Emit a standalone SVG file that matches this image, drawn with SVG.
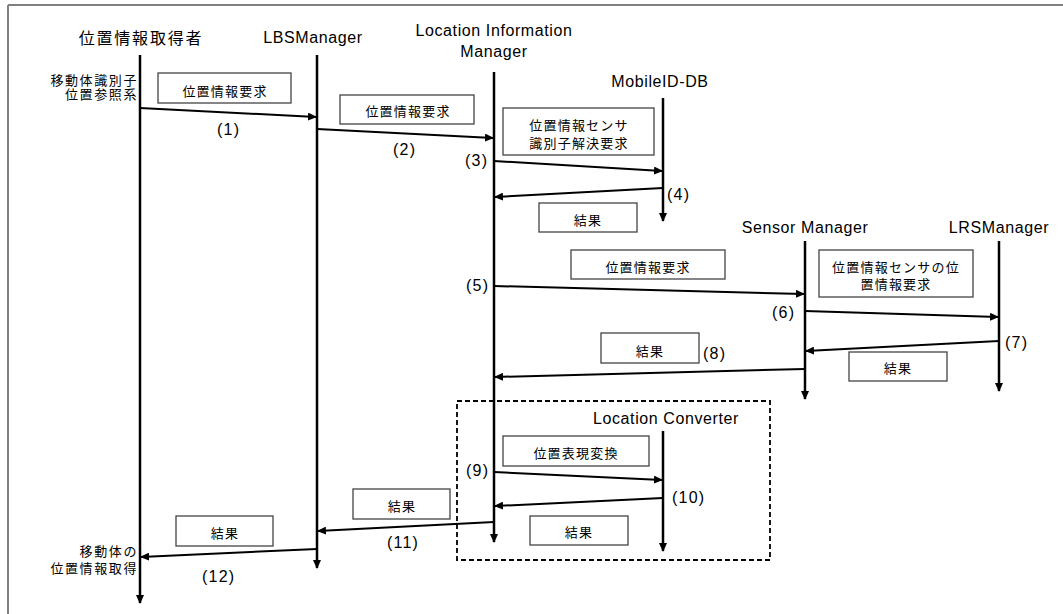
<svg xmlns="http://www.w3.org/2000/svg" width="1063" height="614" viewBox="0 0 1063 614">
<style>
text{font-family:"Liberation Sans","Noto Sans CJK JP",sans-serif;fill:#000}
.hd{font-size:16px;text-anchor:middle;letter-spacing:0.6px}
.hj{font-size:16px;text-anchor:middle;letter-spacing:1.8px}
.bx{fill:#fff;stroke:#444;stroke-width:1.3}
.bt{font-size:13px;text-anchor:middle;letter-spacing:1.2px}
.side{font-size:13px;text-anchor:end;letter-spacing:1.6px}
.num{font-size:16px;letter-spacing:1.2px}
.life{stroke:#000;stroke-width:2.5;fill:none}
.msg{stroke:#000;stroke-width:2;fill:none}
</style>
<defs>
<marker id="ah" viewBox="0 0 9 8" refX="8" refY="4" markerWidth="9" markerHeight="8" markerUnits="userSpaceOnUse" orient="auto">
<path d="M0,0 L9,4 L0,8 z" fill="#000"/>
</marker>
</defs>
<rect width="1063" height="614" fill="#fff"/>
<g id="frame" stroke="#808080" stroke-width="2" fill="none">
<line x1="8" y1="5" x2="1063" y2="5"/>
<line x1="8" y1="5" x2="8" y2="614"/>
</g>
<g id="converter-frame">
<rect x="457" y="401" width="313" height="159" fill="none" stroke="#000" stroke-width="1.8" stroke-dasharray="5,3"/>
</g>
<g id="lifeline-acquirer">
<text class="hj" x="141" y="44">位置情報取得者</text>
<line class="life" x1="140" y1="55" x2="140" y2="603" marker-end="url(#ah)"/>
</g>
<g id="lifeline-lbs">
<text class="hd" x="313" y="43">LBSManager</text>
<line class="life" x1="317" y1="55" x2="317" y2="568" marker-end="url(#ah)"/>
</g>
<g id="lifeline-lim">
<text class="hd" x="494" y="36">Location Information</text>
<text class="hd" x="494" y="57">Manager</text>
<line class="life" x1="494" y1="72" x2="494" y2="542" marker-end="url(#ah)"/>
</g>
<g id="lifeline-mobileid">
<text class="hd" x="660" y="87">MobileID-DB</text>
<line class="life" x1="663" y1="98" x2="663" y2="221" marker-end="url(#ah)"/>
</g>
<g id="lifeline-sensor">
<text class="hd" x="805" y="233">Sensor Manager</text>
<line class="life" x1="805" y1="241" x2="805" y2="399" marker-end="url(#ah)"/>
</g>
<g id="lifeline-lrs">
<text class="hd" x="999" y="233">LRSManager</text>
<line class="life" x1="999" y1="241" x2="999" y2="391" marker-end="url(#ah)"/>
</g>
<g id="lifeline-converter">
<text class="hd" x="666" y="424">Location Converter</text>
<line class="life" x1="663" y1="431" x2="663" y2="551" marker-end="url(#ah)"/>
</g>
<g id="side-labels">
<text class="side" x="138" y="85">移動体識別子</text>
<text class="side" x="138" y="99">位置参照系</text>
<text class="side" x="138" y="556">移動体の</text>
<text class="side" x="138" y="573">位置情報取得</text>
</g>
<g id="box1"><rect class="bx" x="158" y="73" width="133" height="30"/><text class="bt" x="225" y="96">位置情報要求</text></g>
<g id="box2"><rect class="bx" x="340" y="95" width="134" height="29"/><text class="bt" x="408" y="116">位置情報要求</text></g>
<g id="box3"><rect class="bx" x="503" y="108" width="151" height="47"/><text class="bt" x="579" y="130">位置情報センサ</text><text class="bt" x="579" y="148">識別子解決要求</text></g>
<g id="box4"><rect class="bx" x="539" y="203" width="98" height="29"/><text class="bt" x="588" y="225">結果</text></g>
<g id="box5"><rect class="bx" x="571" y="250" width="154" height="29"/><text class="bt" x="648" y="272">位置情報要求</text></g>
<g id="box6"><rect class="bx" x="819" y="250" width="154" height="47"/><text class="bt" x="896" y="272">位置情報センサの位</text><text class="bt" x="896" y="289">置情報要求</text></g>
<g id="box7"><rect class="bx" x="849" y="352" width="98" height="29"/><text class="bt" x="898" y="373">結果</text></g>
<g id="box8"><rect class="bx" x="601" y="333" width="98" height="30"/><text class="bt" x="650" y="356">結果</text></g>
<g id="box9"><rect class="bx" x="503" y="436" width="146" height="30"/><text class="bt" x="576" y="458">位置表現変換</text></g>
<g id="box10"><rect class="bx" x="530" y="516" width="98" height="29"/><text class="bt" x="579" y="537">結果</text></g>
<g id="box11"><rect class="bx" x="353" y="489" width="97" height="30"/><text class="bt" x="402" y="511">結果</text></g>
<g id="box12"><rect class="bx" x="176" y="516" width="97" height="30"/><text class="bt" x="225" y="538">結果</text></g>
<g id="connectors">
<line class="msg" x1="140" y1="108" x2="316" y2="117" marker-end="url(#ah)"/>
<line class="msg" x1="317" y1="129" x2="493" y2="138" marker-end="url(#ah)"/>
<line class="msg" x1="494" y1="161" x2="662" y2="171" marker-end="url(#ah)"/>
<line class="msg" x1="663" y1="188" x2="495" y2="197" marker-end="url(#ah)"/>
<line class="msg" x1="494" y1="286" x2="804" y2="294" marker-end="url(#ah)"/>
<line class="msg" x1="805" y1="311" x2="998" y2="317" marker-end="url(#ah)"/>
<line class="msg" x1="999" y1="341" x2="806" y2="351" marker-end="url(#ah)"/>
<line class="msg" x1="805" y1="369" x2="495" y2="377" marker-end="url(#ah)"/>
<line class="msg" x1="494" y1="472" x2="662" y2="480" marker-end="url(#ah)"/>
<line class="msg" x1="663" y1="498" x2="495" y2="506" marker-end="url(#ah)"/>
<line class="msg" x1="494" y1="522" x2="318" y2="531" marker-end="url(#ah)"/>
<line class="msg" x1="317" y1="549" x2="141" y2="557" marker-end="url(#ah)"/>
</g>
<g id="step-numbers">
<text class="num" x="217" y="135">(1)</text>
<text class="num" x="393" y="155">(2)</text>
<text class="num" x="465" y="166">(3)</text>
<text class="num" x="667" y="200">(4)</text>
<text class="num" x="466" y="291">(5)</text>
<text class="num" x="772" y="318">(6)</text>
<text class="num" x="1005" y="348">(7)</text>
<text class="num" x="703" y="359">(8)</text>
<text class="num" x="466" y="476">(9)</text>
<text class="num" x="672" y="503">(10)</text>
<text class="num" x="387" y="548">(11)</text>
<text class="num" x="202" y="582">(12)</text>
</g>
</svg>
